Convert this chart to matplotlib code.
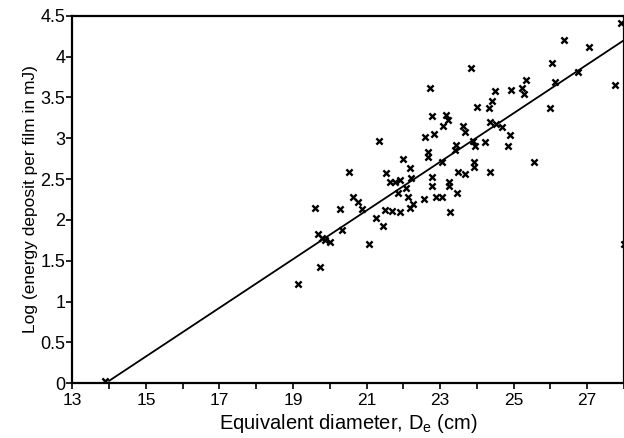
import numpy as np
import matplotlib
matplotlib.use("Agg")
import matplotlib.pyplot as plt

plt.rcParams['font.family'] = ['Liberation Sans', 'DejaVu Sans']

# measured points: equivalent diameter (cm), log energy deposit per film (mJ)
diam = [13.9, 19.14, 19.73, 19.60, 19.69, 19.80, 19.87, 20.00, 20.29, 20.32,
        20.53, 20.64, 20.77, 20.87, 21.07, 21.27, 21.34, 21.45, 21.50, 21.52,
        21.63, 21.68, 21.77, 21.86, 21.90, 21.90, 21.98, 22.08, 22.13, 22.18,
        22.18, 22.22, 22.25, 22.56, 22.58, 22.67, 22.67, 22.72, 22.77, 22.77,
        22.79, 22.83, 22.90, 23.04, 23.04, 23.08, 23.17, 23.22, 23.25, 23.25,
        23.28, 23.40, 23.43, 23.47, 23.49, 23.63, 23.67, 23.67, 23.85, 23.90,
        23.92, 23.92, 23.94, 23.99, 24.21, 24.33, 24.35, 24.35, 24.40, 24.49,
        24.53, 24.67, 24.85, 24.89, 24.94, 25.24, 25.28, 25.33, 25.55, 25.98,
        26.05, 26.12, 26.37, 26.75, 27.05, 27.75, 27.93, 28.0]
logE = [0.03, 1.22, 1.42, 2.15, 1.83, 1.78, 1.75, 1.73, 2.13, 1.88,
        2.59, 2.28, 2.22, 2.13, 1.70, 2.02, 2.96, 1.93, 2.12, 2.57,
        2.47, 2.11, 2.47, 2.33, 2.10, 2.49, 2.75, 2.39, 2.28, 2.63,
        2.14, 2.51, 2.20, 2.26, 3.02, 2.83, 2.77, 3.61, 2.53, 2.41,
        3.27, 3.05, 2.28, 2.28, 2.71, 3.15, 3.28, 3.22, 2.47, 2.41,
        2.10, 2.86, 2.92, 2.33, 2.59, 3.15, 2.56, 3.08, 3.86, 2.96,
        2.71, 2.65, 2.90, 3.38, 2.95, 3.37, 2.59, 3.20, 3.45, 3.58,
        3.18, 3.14, 2.90, 3.04, 3.59, 3.61, 3.54, 3.71, 2.71, 3.37,
        3.92, 3.69, 4.20, 3.81, 4.12, 3.65, 4.41, 1.70]

# fitted line end points
fit_x = [14, 28]
fit_y = [0.03, 4.20]

xticks = [13, 15, 17, 19, 21, 23, 25, 27]
yticks = [0, 0.5, 1, 1.5, 2, 2.5, 3, 3.5, 4, 4.5]
ylabels = ['0', '0.5', '1', '1.5', '2', '2.5', '3', '3.5', '4', '4.5']

fig = plt.figure(figsize=(6.24, 4.38), dpi=100)
ax = fig.add_axes([0.1159, 0.1249, 0.8841, 0.8393])

ax.plot(fit_x, fit_y, color='black', lw=1.3)
ax.scatter(diam, logE, marker='x', s=20, color='black', linewidths=1.7, zorder=3)

ax.set_xlim(13, 28)
ax.set_ylim(0, 4.5)
ax.set_xticks(xticks)
ax.set_xticks(range(14, 29, 2), minor=True)
ax.set_yticks(yticks)
ax.set_yticklabels(ylabels)
ax.tick_params(axis='both', which='both', direction='out', length=4, width=1.2,
               colors='black')
ax.tick_params(axis='x', pad=3, labelsize=12.5)
ax.tick_params(axis='y', pad=1, labelsize=13)

for s in ax.spines.values():
    s.set_linewidth(1.6)

ax.set_xlabel(r'Equivalent diameter, D$_\mathregular{e}$ (cm)', fontsize=14.5, labelpad=3)
ax.set_ylabel('Log (energy deposit per film in mJ)', fontsize=12.5, labelpad=2)

fig.savefig('out.png', dpi=100)
